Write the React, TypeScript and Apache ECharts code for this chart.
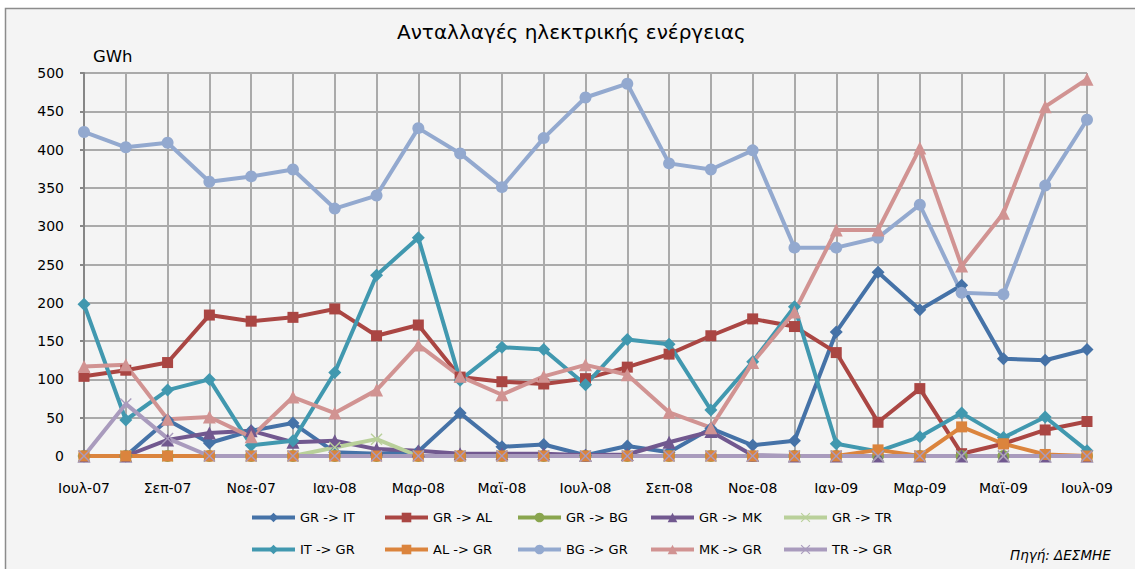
import React, { useEffect, useRef } from "react";
import * as echarts from "echarts";

const months = [
  "Ιουλ-07", "Αυγ-07", "Σεπ-07", "Οκτ-07", "Νοε-07", "Δεκ-07",
  "Ιαν-08", "Φεβ-08", "Μαρ-08", "Απρ-08", "Μαϊ-08", "Ιουν-08",
  "Ιουλ-08", "Αυγ-08", "Σεπ-08", "Οκτ-08", "Νοε-08", "Δεκ-08",
  "Ιαν-09", "Φεβ-09", "Μαρ-09", "Απρ-09", "Μαϊ-09", "Ιουν-09", "Ιουλ-09",
];

const grIt = [0, 0, 47, 17, 33, 43, 5, 3, 6, 56, 12, 15, 1, 13, 5, 36, 14, 20, 162, 240, 191, 223, 127, 125, 139];
const grAl = [104, 112, 122, 184, 176, 181, 192, 157, 171, 103, 97, 94, 101, 116, 133, 157, 179, 169, 135, 44, 88, 3, 16, 34, 45];
const grBg = [0, 0, 0, 0, 0, 0, 0, 0, 0, 0, 0, 0, 0, 0, 0, 0, 0, 0, 0, 0, 0, 0, 0, 0, 0];
const grMk = [0, 0, 21, 30, 33, 18, 20, 9, 7, 3, 3, 3, 1, 2, 18, 32, 1, 0, 0, 0, 0, 0, 0, 0, 0];
const grTr = [0, 0, 0, 0, 0, 0, 11, 22, 0, 0, 0, 0, 0, 0, 0, 0, 0, 0, 0, 0, 0, 0, 0, 0, 0];
const itGr = [198, 47, 86, 100, 14, 20, 109, 236, 285, 99, 142, 139, 93, 152, 146, 60, 123, 195, 16, 6, 25, 56, 24, 51, 7];
const alGr = [0, 0, 0, 0, 0, 0, 0, 0, 0, 0, 0, 0, 0, 0, 0, 0, 0, 0, 0, 8, 0, 38, 16, 2, 0];
const bgGr = [423, 403, 409, 358, 365, 374, 323, 340, 428, 395, 351, 415, 468, 486, 382, 374, 399, 272, 272, 285, 328, 213, 211, 353, 439];
const mkGr = [117, 119, 48, 51, 25, 77, 56, 86, 145, 104, 80, 104, 119, 106, 57, 37, 122, 188, 295, 295, 402, 248, 317, 456, 492];
const trGr = [0, 68, 23, 0, 0, 0, 0, 0, 0, 0, 0, 0, 0, 0, 0, 0, 0, 0, 0, 0, 0, 0, 0, 0, 0];

const seriesNames = [
  "GR -> IT", "GR -> AL", "GR -> BG", "GR -> MK", "GR -> TR",
  "IT -> GR", "AL -> GR", "BG -> GR", "MK -> GR", "TR -> GR",
];
const seriesData = [grIt, grAl, grBg, grMk, grTr, itGr, alGr, bgGr, mkGr, trGr];
const colors = [
  "#4572a7", "#aa4643", "#89a54e", "#71588f", "#b9d09a",
  "#4198af", "#db843d", "#93a9cf", "#d19392", "#a99bbd",
];

const X_PATH = "path://M0,1L1,0L6,5L11,0L12,1L7,6L12,11L11,12L6,7L1,12L0,11L5,6Z";
const symbols = [
  "diamond", "rect", "circle", "triangle", X_PATH,
  "diamond", "rect", "circle", "triangle", X_PATH,
];
const symbolSizes = [13, 11, 12, 13, 12, 13, 11, 12, 13, 12];

const FONT = "DejaVu Sans";

export default function App() {
  const ref = useRef<HTMLDivElement>(null);
  useEffect(() => {
    document.body.style.margin = "0";
    const chart = echarts.init(ref.current!, null, { renderer: "svg" });
    const legends = seriesNames.map((name, i) => ({
      left: 250 + (i % 5) * 133,
      top: i < 5 ? 511 : 543,
      padding: 0,
      itemWidth: 43,
      itemHeight: 12,
      selectedMode: false,
      lineStyle: { width: 4 },
      textStyle: { fontFamily: FONT, fontSize: 13, color: "#000" },
      data: [name],
    }));
    chart.setOption({
      animation: false,
      backgroundColor: "#ffffff",
      color: colors,
      textStyle: { fontFamily: FONT },
      title: {
        text: "Ανταλλαγές ηλεκτρικής ενέργειας",
        left: 397,
        top: 22,
        padding: 0,
        textStyle: { fontFamily: FONT, fontSize: 20, fontWeight: "normal", color: "#000" },
      },
      graphic: [
        {
          type: "rect",
          z: -10,
          silent: true,
          shape: { x: 5.5, y: 8.5, width: 1140, height: 570 },
          style: { fill: "#f4f4f4", stroke: "#8c8c8c", lineWidth: 1.5 },
        },
        {
          type: "text",
          left: 93,
          top: 48,
          style: { text: "GWh", fontFamily: FONT, fontSize: 16.5, fill: "#000" },
        },
        {
          type: "text",
          left: 1010,
          top: 548,
          style: {
            text: "Πηγή: ΔΕΣΜΗΕ",
            fontFamily: FONT,
            fontSize: 13.5,
            fontStyle: "italic",
            fill: "#000",
          },
        },
      ],
      legend: legends,
      grid: { left: 84, right: 48, top: 73, bottom: 113, containLabel: false },
      xAxis: {
        type: "category",
        boundaryGap: false,
        data: months,
        axisLine: { lineStyle: { color: "#868686", width: 2 } },
        axisTick: { show: true, interval: 0, length: 5, lineStyle: { color: "#868686", width: 2 } },
        axisLabel: { interval: 1, fontFamily: FONT, fontSize: 14, color: "#000", margin: 25 },
        splitLine: { show: true, interval: 0, lineStyle: { color: "#aaaaaa", width: 2 } },
      },
      yAxis: {
        type: "value",
        min: 0,
        max: 500,
        interval: 50,
        axisLine: { show: true, lineStyle: { color: "#868686", width: 2 } },
        axisTick: { show: true, length: 4, lineStyle: { color: "#868686", width: 2 } },
        axisLabel: { fontFamily: FONT, fontSize: 14, color: "#000", margin: 20 },
        splitLine: { show: true, lineStyle: { color: "#aaaaaa", width: 2 } },
      },
      series: seriesNames.map((name, i) => ({
        name,
        type: "line",
        data: seriesData[i],
        symbol: symbols[i],
        symbolSize: symbolSizes[i],
        showAllSymbol: true,
        lineStyle: { width: 4, color: colors[i] },
        itemStyle: { color: colors[i] },
      })),
    });
    return () => chart.dispose();
  }, []);
  return <div ref={ref} style={{ width: 1135, height: 569 }} />;
}
